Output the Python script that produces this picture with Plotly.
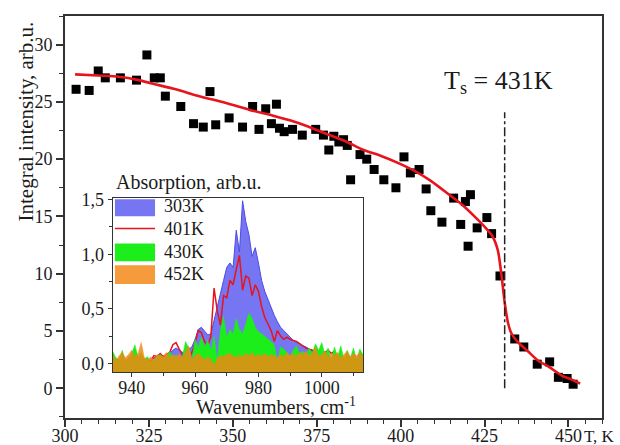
import plotly.graph_objects as go

# ---------------- main data ----------------
T_points = [303.3, 307.2, 309.9, 312.0, 316.5, 321.3, 324.4, 326.6, 328.4, 329.9,
            334.5, 338.3, 341.2, 343.2, 344.9, 348.9, 352.9, 355.9, 357.8, 359.8,
            361.5, 363.0, 363.9, 365.3, 367.8, 370.7, 374.7, 377.0, 378.6, 380.1,
            381.6, 383.0, 384.1, 385.1, 387.9, 389.9, 392.1, 395.0, 398.6, 401.0,
            402.9, 405.5, 407.6, 409.0, 412.3, 415.8, 417.9, 419.3, 420.1, 420.8,
            422.8, 425.7, 427.1, 429.6, 434.0, 436.7, 440.7, 444.4, 447.0, 449.6, 451.4]
I_points = [26.1, 26.0, 27.7, 27.1, 27.1, 26.9, 29.1, 27.1, 27.1, 25.5,
            24.6, 23.1, 22.8, 25.9, 23.0, 23.6, 22.8, 24.6, 22.6, 24.4,
            23.1, 24.8, 22.7, 22.4, 22.6, 22.1, 22.6, 22.1, 20.8, 22.0,
            21.5, 21.7, 21.2, 18.2, 20.4, 20.0, 19.1, 18.2, 17.5, 20.2,
            18.8, 19.1, 17.4, 15.5, 14.5, 16.6, 14.3, 16.3, 12.4, 16.9,
            14.0, 14.9, 13.5, 9.8, 4.3, 3.6, 2.1, 2.3, 0.95, 0.85, 0.35]

T_fit = [303, 310, 316, 322, 326, 333, 340, 348, 355, 362, 367, 372, 378, 384, 389,
         394, 399, 404, 409, 414, 418, 422, 425, 427.5, 429, 430, 431, 432, 433,
         435, 438, 441, 444, 448, 451, 453.5]
I_fit = [27.4, 27.3, 27.2, 26.9, 26.6, 26.1, 25.5, 24.9, 24.3, 23.8, 23.4, 22.9, 22.2,
         21.5, 20.8, 20.3, 19.7, 19.0, 18.1, 17.0, 16.1, 15.0, 14.1, 13.2, 12.0, 10.0,
         7.5, 5.7, 4.8, 4.0, 3.2, 2.4, 1.9, 1.1, 0.75, 0.4]

TS = 431
TS_LINE_TOP = 24.1
x_ticks = [300, 325, 350, 375, 400, 425, 450]

# ---------------- inset data ----------------
wn_all = list(range(934, 1014))
wn_303 = list(range(934, 1014))
a_303 = [0.03, 0.03, 0.03, 0.03, 0.03, 0.03, 0.03, 0.03, 0.03, 0.03,
         0.03, 0.03, 0.03, 0.05, 0.06, 0.05, 0.07, 0.06, 0.09, 0.12,
         0.14, 0.12, 0.10, 0.11, 0.13, 0.15, 0.22, 0.31, 0.33, 0.29,
         0.26, 0.27, 0.40, 0.52, 0.66, 0.76, 0.88, 0.92, 0.88, 1.22,
         1.02, 1.49, 1.30, 1.18, 0.98, 1.06, 0.92, 0.76, 0.66, 0.58,
         0.50, 0.44, 0.38, 0.33, 0.30, 0.27, 0.24, 0.21, 0.19, 0.18,
         0.16, 0.15, 0.13, 0.12, 0.10, 0.08, 0.06, 0.05, 0.04, 0.04,
         0.04, 0.04, 0.04, 0.04, 0.04, 0.04, 0.04, 0.04, 0.04, 0.04]
wn_401 = list(range(946, 1007))
a_401 = [0.02, 0.07, 0.06, 0.09, 0.06, 0.08, 0.10, 0.17, 0.19, 0.13,
         0.08, 0.06, 0.04, 0.10, 0.18, 0.30, 0.28, 0.20, 0.16, 0.25,
         0.69, 0.48, 0.35, 0.62, 0.60, 0.76, 0.72, 0.86, 0.99, 0.67,
         0.80, 0.78, 0.62, 0.72, 0.66, 0.52, 0.42, 0.36, 0.30, 0.20,
         0.30, 0.25, 0.22, 0.24, 0.22, 0.21, 0.20, 0.18, 0.16, 0.14,
         0.13, 0.12, 0.10, 0.09, 0.11, 0.10, 0.12, 0.09, 0.11, 0.06, 0.04]
a_430 = [0.11, 0.05, 0.03, 0.12, 0.02, 0.06, 0.09, 0.17, 0.06, 0.10,
         0.04, 0.06, 0.01, 0.04, 0.06, 0.08, 0.04, 0.06, 0.11, 0.05,
         0.08, 0.03, 0.06, 0.20, 0.14, 0.02, 0.22, 0.14, 0.24, 0.15,
         0.21, 0.12, 0.25, 0.03, 0.30, 0.43, 0.24, 0.31, 0.27, 0.41,
         0.31, 0.27, 0.36, 0.46, 0.41, 0.33, 0.29, 0.27, 0.25, 0.22,
         0.20, 0.17, 0.02, 0.15, 0.13, 0.10, 0.06, 0.12, 0.16, 0.09,
         0.11, 0.07, 0.14, 0.09, 0.18, 0.12, 0.19, 0.08, 0.14, 0.03,
         0.15, 0.06, 0.16, 0.04, 0.12, 0.05, 0.14, 0.03, 0.13, 0.08]
a_452 = [0.08, 0.02, 0.07, 0.10, 0.05, 0.08, 0.12, 0.06, 0.09, 0.19,
         0.05, 0.03, 0.06, 0.03, 0.08, 0.06, 0.07, 0.10, 0.05, 0.08,
         0.06, 0.09, 0.05, 0.11, 0.16, 0.04, 0.07, 0.09, 0.06, 0.03,
         0.06, 0.04, -0.02, 0.05, 0.07, 0.06, 0.08, 0.09, 0.07, 0.05,
         0.08, 0.06, 0.09, 0.07, 0.10, 0.06, 0.08, 0.07, 0.09, 0.06,
         0.08, 0.07, 0.05, 0.08, 0.06, 0.10, 0.07, 0.09, 0.06, 0.10,
         0.08, 0.11, 0.07, 0.09, 0.15, 0.06, 0.08, 0.11, 0.06, 0.09,
         0.07, 0.10, 0.05, 0.08, 0.11, 0.06, 0.09, 0.07, 0.10, 0.06]

series_names = ["303K", "401K", "430K", "452K"]
inset_x_ticks = [940, 960, 980, 1000]
inset_y_ticks = [0.0, 0.5, 1.0, 1.5]
inset_y_text = ["0,0", "0,5", "1,0", "1,5"]

# ---------------- styles ----------------
FONT = "Liberation Serif, Times New Roman, serif"
AX = "#333333"
TXT = "#1a1a1a"
BLUE_FILL = "rgba(118,118,242,1)"
BLUE_EDGE = "#4b4be6"
RED = "#e8141c"
GREEN = "#1cee1c"
ORANGE = "rgba(243,135,20,0.83)"
Y2MIN, Y2MAX = -0.08, 1.52

fig = go.Figure()

# main plot
fig.add_trace(go.Scatter(x=T_points, y=I_points, mode="markers",
                         marker=dict(symbol="square", size=9, color="black"),
                         showlegend=False, xaxis="x", yaxis="y"))
fig.add_trace(go.Scatter(x=T_fit, y=I_fit, mode="lines", line=dict(color=RED, width=2.6, shape="spline", smoothing=0.6),
                         showlegend=False, xaxis="x", yaxis="y"))

# inset: baselines + fills
def base(xs):
    return go.Scatter(x=xs, y=[Y2MIN - 0.05] * len(xs), mode="lines", line=dict(width=0),
                      showlegend=False, hoverinfo="skip", xaxis="x2", yaxis="y2")

fig.add_trace(base(wn_303))
fig.add_trace(go.Scatter(x=wn_303, y=a_303, mode="lines", fill="tonexty", fillcolor=BLUE_FILL,
                         line=dict(color=BLUE_EDGE, width=1), name=series_names[0],
                         showlegend=False, xaxis="x2", yaxis="y2"))
fig.add_trace(go.Scatter(x=wn_401, y=a_401, mode="lines", line=dict(color=RED, width=1.5),
                         name=series_names[1], showlegend=False, xaxis="x2", yaxis="y2"))
fig.add_trace(base(wn_all))
fig.add_trace(go.Scatter(x=wn_all, y=a_430, mode="lines", fill="tonexty", fillcolor=GREEN,
                         line=dict(color=GREEN, width=0.5), name=series_names[2],
                         showlegend=False, xaxis="x2", yaxis="y2"))
fig.add_trace(base(wn_all))
fig.add_trace(go.Scatter(x=wn_all, y=a_452, mode="lines", fill="tonexty", fillcolor=ORANGE,
                         line=dict(color=ORANGE, width=0.5), name=series_names[3],
                         showlegend=False, xaxis="x2", yaxis="y2"))

axis_common = dict(showline=True, linecolor=AX, mirror=True, showgrid=False, zeroline=False,
                   automargin=False, ticks="outside", tickcolor=AX,
                   tickfont=dict(family=FONT, size=18, color=TXT))

fig.update_layout(
    width=620, height=445,
    margin=dict(l=65, r=18, t=16, b=27, autoexpand=False),
    plot_bgcolor="white", paper_bgcolor="white",
    showlegend=False,
    xaxis=dict(domain=[0, 1], range=[300, 460], tickvals=x_ticks, ticklen=7, tickwidth=1.5,
               linewidth=1.6, ticklabelstandoff=-6,
               minor=dict(dtick=5, tick0=300, ticklen=4, ticks="outside", tickcolor=AX, tickwidth=1.2),
               anchor="y", **axis_common),
    yaxis=dict(domain=[0, 1], range=[-2.6, 32.5], dtick=5, tick0=0, ticklen=7, tickwidth=1.5,
               linewidth=1.6, minor=dict(dtick=2.5, tick0=0, ticklen=4, ticks="outside", tickcolor=AX, tickwidth=1.2),
               anchor="x", **axis_common),
    xaxis2=dict(domain=[0.0888, 0.5555], range=[934, 1013.1], tickvals=inset_x_ticks, ticklen=4, tickwidth=1,
                linewidth=1, ticklabelstandoff=-5,
                minor=dict(dtick=10, tick0=940, ticklen=3, ticks="outside", tickcolor=AX),
                anchor="y2", **axis_common),
    yaxis2=dict(domain=[0.1144, 0.5485], range=[Y2MIN, Y2MAX], tickvals=inset_y_ticks, ticktext=inset_y_text,
                ticklen=4, tickwidth=1, linewidth=1,
                minor=dict(tickvals=[0.25, 0.75, 1.25], ticklen=3, ticks="outside", tickcolor=AX),
                anchor="x2", **axis_common),
)

# vertical dash-dot line at Ts
fig.add_shape(type="line", xref="x", yref="y", x0=TS, x1=TS, y0=0, y1=TS_LINE_TOP,
              line=dict(color="#222222", width=1.5, dash="dashdot"))

# manual legend in inset
legend_colors = [BLUE_FILL, None, GREEN, ORANGE]
leg_boxes = [(0.893, 0.990), None, (0.634, 0.737), (0.505, 0.612)]
leg_text_y = [0.950, 0.822, 0.690, 0.560]
for i, name in enumerate(series_names):
    if leg_boxes[i] is not None:
        y0, y1 = leg_boxes[i]
        fig.add_shape(type="rect", xref="x2 domain", yref="y2 domain", x0=0.009, x1=0.169, y0=y0, y1=y1,
                      fillcolor=legend_colors[i], line=dict(width=0))
    else:
        fig.add_shape(type="line", xref="x2 domain", yref="y2 domain", x0=0.009, x1=0.169,
                      y0=leg_text_y[i], y1=leg_text_y[i], line=dict(color=RED, width=1.5))
    fig.add_annotation(xref="x2 domain", yref="y2 domain", x=0.195, y=leg_text_y[i], text=name,
                       showarrow=False, xanchor="left", yanchor="middle",
                       font=dict(family=FONT, size=18, color=TXT))

# texts
fig.add_annotation(xref="paper", yref="paper", x=-0.0726, y=0.7376, text="Integral intensity, arb.u.",
                   textangle=-90, showarrow=False, xanchor="center", yanchor="middle",
                   font=dict(family=FONT, size=21, color=TXT))
fig.add_annotation(xref="paper", yref="paper", x=0.963, y=-0.047, text="T, K",
                   showarrow=False, xanchor="left", yanchor="middle",
                   font=dict(family=FONT, size=17, color=TXT))
fig.add_annotation(xref="paper", yref="paper", x=0.702, y=0.835, text="T<sub>s</sub> = 431K",
                   showarrow=False, xanchor="left", yanchor="middle",
                   font=dict(family=FONT, size=26, color=TXT))
fig.add_annotation(xref="paper", yref="paper", x=0.0905, y=0.5846, text="Absorption, arb.u.",
                   showarrow=False, xanchor="left", yanchor="middle",
                   font=dict(family=FONT, size=20, color=TXT))
fig.add_annotation(xref="paper", yref="paper", x=0.5460, y=0.030, text="Wavenumbers, cm<sup>-1</sup>",
                   showarrow=False, xanchor="right", yanchor="middle",
                   font=dict(family=FONT, size=20, color=TXT))

fig.write_html("out.html")
